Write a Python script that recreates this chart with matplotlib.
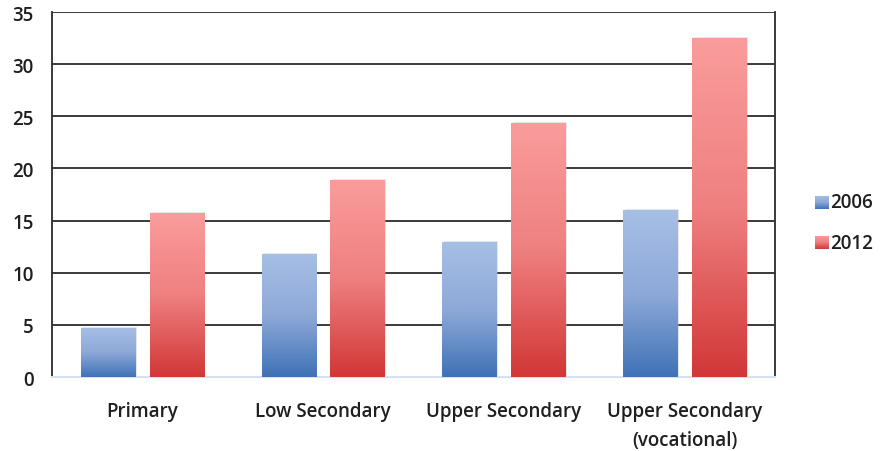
import numpy as np
import matplotlib
matplotlib.use("Agg")
from matplotlib import pyplot as plt
from matplotlib.colors import LinearSegmentedColormap
from matplotlib.patches import Rectangle

plt.rcParams['font.family'] = ['Open Sans', 'DejaVu Sans']
plt.rcParams['font.weight'] = 'semibold'

# data
categories = ["Primary", "Low Secondary", "Upper Secondary", "Upper Secondary\n(vocational)"]
years = ["2006", "2012"]
vals_2006 = [4.7, 11.8, 12.9, 16.0]
vals_2012 = [15.7, 18.9, 24.4, 32.5]

# gradient colours, top -> bottom
blue_cm = LinearSegmentedColormap.from_list("b", ["#a6bfe5", "#8ea9d8", "#3f72b6"])
red_cm = LinearSegmentedColormap.from_list("r", ["#fa9c9c", "#ef8080", "#d13736"])

fig = plt.figure(figsize=(8.84, 4.52), dpi=100)
ax = fig.add_axes([0.0588, 0.1637, 0.818, 0.8075])

x = np.arange(len(categories))
w = 0.30
off = 0.19
grad = np.linspace(0, 1, 256).reshape(-1, 1)

def gbar(xs, vals, cmap):
    bars = ax.bar(xs, vals, w, color="none", edgecolor="none", zorder=3)
    for b in bars:
        x0, y0 = b.get_x(), b.get_y()
        x1, y1 = x0 + b.get_width(), y0 + b.get_height()
        # faint shadow
        ax.add_patch(Rectangle((x0 + 0.008, y0), b.get_width(), b.get_height() + 0.1,
                               color="#bbbbbb", alpha=0.35, lw=0, zorder=2.5))
        im = ax.imshow(grad, cmap=cmap, extent=(x0, x1, y0, y1), aspect="auto",
                       zorder=3, interpolation="bicubic", vmin=0, vmax=1)
        im.set_clip_path(b)
    return bars

gbar(x - off, vals_2006, blue_cm)
gbar(x + off, vals_2012, red_cm)

ax.set_xlim(-0.5, len(categories) - 0.5)
ax.set_ylim(0, 35)
ax.set_yticks(np.arange(0, 36, 5))
ax.yaxis.grid(True, color="#2b2b2b", lw=1.3, zorder=1)
ax.set_axisbelow(True)
ax.set_xticks(x)
ax.set_xticklabels(categories, linespacing=1.6)
ax.tick_params(axis="both", length=0, labelsize=13.5, colors="#1f1f1f")
ax.tick_params(axis="x", pad=17)
ax.tick_params(axis="y", pad=13)

for s in ["left", "right"]:
    ax.spines[s].set_color("#2b2b2b")
    ax.spines[s].set_linewidth(1.3)
ax.spines["top"].set_visible(False)
ax.spines["bottom"].set_color("#d5e1f2")
ax.spines["bottom"].set_linewidth(1.5)

# legend with gradient swatches
for i, (lab, cm) in enumerate(zip(years, [blue_cm, red_cm])):
    yy = 0.55 - i * 0.09
    fax = fig.add_axes([0.922, yy - 0.014, 0.015, 0.029])
    fax.imshow(grad, cmap=cm, aspect="auto", vmin=0, vmax=1)
    fax.axis("off")
    fig.text(0.939, yy, lab, fontsize=13.5, va="center", ha="left", color="#1f1f1f")

fig.savefig("out.png", dpi=100)
